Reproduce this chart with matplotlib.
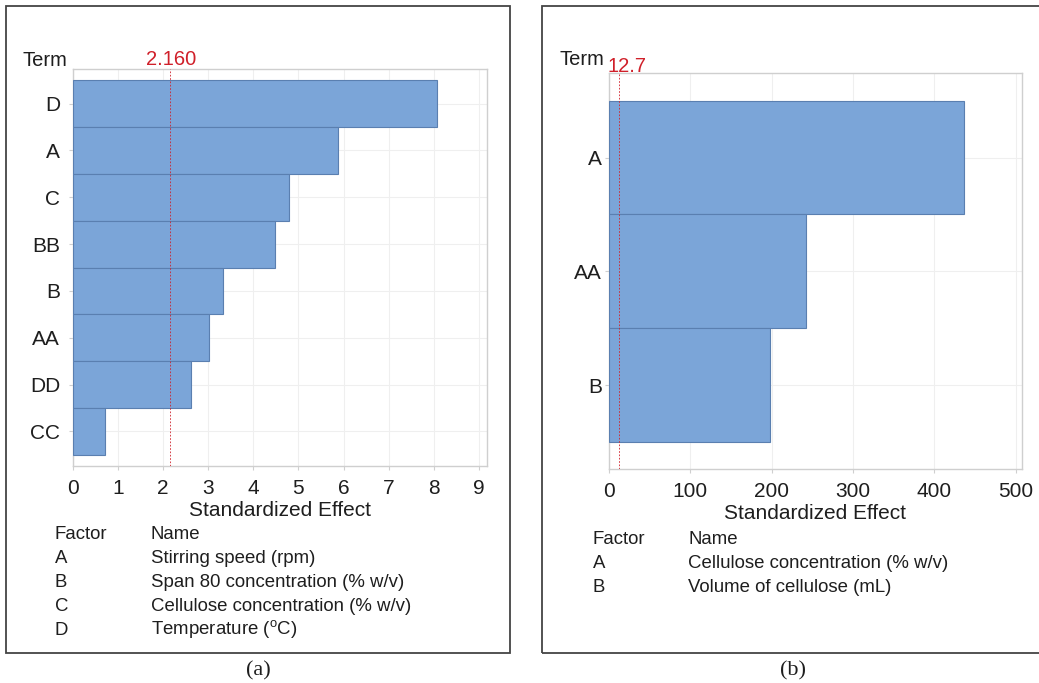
import matplotlib
matplotlib.use("Agg")
import matplotlib.pyplot as plt
from matplotlib.patches import Rectangle

plt.rcParams['font.family'] = ['Liberation Sans', 'DejaVu Sans']
plt.rcParams['mathtext.fontset'] = 'custom'
plt.rcParams['mathtext.rm'] = 'Liberation Sans'

# ---- data ----
terms_a = ['D', 'A', 'C', 'BB', 'B', 'AA', 'DD', 'CC']
effects_a = [8.08, 5.88, 4.78, 4.47, 3.34, 3.01, 2.61, 0.72]
ref_a = 2.160
ref_a_label = '2.160'
xticks_a = list(range(0, 10))
factors_a = ['A', 'B', 'C', 'D']
names_a = ['Stirring speed (rpm)', 'Span 80 concentration (% w/v)',
           'Cellulose concentration (% w/v)',
           'Temperature ($^{\\mathregular{o}}$C)']

terms_b = ['A', 'AA', 'B']
effects_b = [437, 242, 198]
ref_b = 12.7
ref_b_label = '12.7'
xticks_b = [0, 100, 200, 300, 400, 500]
factors_b = ['A', 'B']
names_b = ['Cellulose concentration (% w/v)', 'Volume of cellulose (mL)']

W, H = 1039, 683
fig = plt.figure(figsize=(W / 100, H / 100), dpi=100)

def px(x, y):
    return x / W, 1 - y / H

BAR_FC = '#7ba5d8'
BAR_EC = '#5a7fb0'
GRID = '#efefef'
SPINE = '#cfcfcf'
RED = '#d0202a'
TXT = '#1e1e1e'

def make_panel(rect, terms, effects, ref, ref_label, xticks, xmax,
               ref_dx, ref_dy, term_xy, ypad):
    ax = fig.add_axes(rect)
    n = len(terms)
    ypos = list(range(n))
    ax.barh(ypos, effects, height=1.0, color=BAR_FC, edgecolor=BAR_EC,
            linewidth=0.8, zorder=3)
    ax.set_ylim(n - 0.5 + 0.24, -0.5 - 0.24)
    ax.set_xlim(0, xmax)
    ax.set_yticks(ypos)
    ax.set_yticklabels(terms, fontsize=15, color=TXT)
    ax.set_xticks(xticks)
    ax.set_xticklabels([str(t) for t in xticks], fontsize=15, color=TXT)
    ax.grid(True, color=GRID, linewidth=0.8, zorder=0)
    for s in ax.spines.values():
        s.set_color(SPINE)
        s.set_linewidth(1.0)
    ax.tick_params(axis='x', length=3, color=SPINE, pad=6)
    ax.tick_params(axis='y', length=3, color=SPINE, pad=ypad)
    ax.axvline(ref, color=RED, linewidth=0.6, linestyle=(0, (2, 2)), zorder=4)
    ax.annotate(ref_label, xy=(ref, 1.0), xycoords=('data', 'axes fraction'),
                xytext=(ref_dx, ref_dy), textcoords='offset points',
                ha='center', va='bottom', fontsize=14.5, color=RED)
    ax.set_xlabel('Standardized Effect', fontsize=15, color=TXT)
    ax.xaxis.set_label_coords(0.5, -0.112)
    ax.xaxis.label.set_va('center')
    fig.text(*px(*term_xy), 'Term', fontsize=14.5, color=TXT,
             ha='left', va='baseline')
    return ax

# panel (a)
ax_a = make_panel([72.7 / W, (H - 466) / H, 414 / W, 397 / H],
                  terms_a, effects_a, ref_a, ref_a_label, xticks_a, 9.17,
                  1, 0, (22.7, 66.5), 6)
# panel (b)
ax_b = make_panel([608.7 / W, (H - 469.3) / H, 413.6 / W, 396 / H],
                  terms_b, effects_b, ref_b, ref_b_label, xticks_b, 508,
                  6, -2, (559.5, 65), 2)

# factor tables (baseline aligned)
def table(x0, x1, y0, factors, names):
    fs = 13.4
    off = 6
    fig.text(*px(x0, y0 + off), 'Factor', fontsize=fs, color=TXT, va='baseline')
    fig.text(*px(x1, y0 + off), 'Name', fontsize=fs, color=TXT, va='baseline')
    for i, (f, nm) in enumerate(zip(factors, names)):
        y = y0 + 24 * (i + 1) + off
        fig.text(*px(x0, y), f, fontsize=fs, color=TXT, va='baseline')
        fig.text(*px(x1, y), nm, fontsize=fs, color=TXT, va='baseline')

table(55, 150.7, 533, factors_a, names_a)
table(592.7, 688.3, 538, factors_b, names_b)

# outer frames
fig.patches.append(Rectangle(px(5.5, 653), (510 - 5.5) / W, (653 - 6) / H,
                             transform=fig.transFigure, fill=False,
                             edgecolor='#444444', linewidth=1.3))
fig.patches.append(Rectangle(px(541.7, 653), (1045 - 541.7) / W, (653 - 6) / H,
                             transform=fig.transFigure, fill=False,
                             edgecolor='#444444', linewidth=1.3))

# captions
fig.text(*px(258.5, 671), '(a)', fontsize=16, family='Liberation Serif',
         ha='center', va='center', color=TXT)
fig.text(*px(793, 671), '(b)', fontsize=16, family='Liberation Serif',
         ha='center', va='center', color=TXT)

fig.savefig('out.png', dpi=100)
